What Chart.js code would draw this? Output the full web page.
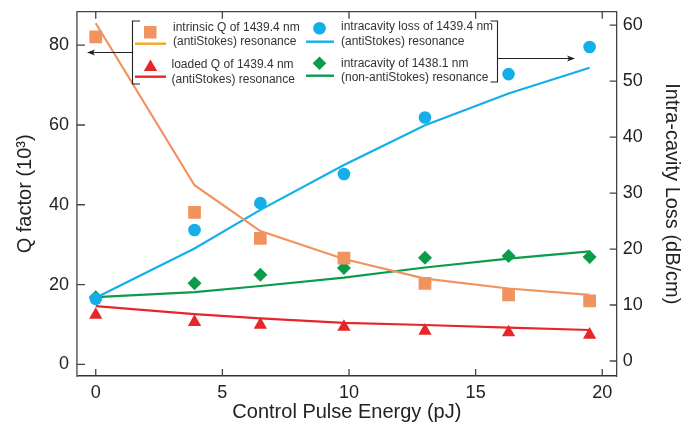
<!DOCTYPE html>
<html>
<head>
<meta charset="utf-8">
<script src="https://cdn.jsdelivr.net/npm/chart.js@4.4.1/dist/chart.umd.min.js"></script>
<style>
  html, body { margin: 0; padding: 0; background: #fff; }
  #wrap { width: 694px; height: 428px; position: relative; }
</style>
</head>
<body>
<div id="wrap"><canvas id="chart"></canvas></div>
<script>
// control pulse energy (pJ)
const energy = [0, 3.9, 6.5, 9.8, 13, 16.3, 19.5];

// Q factor (10^3), left axis
const intrinsicQ = [82.1, 38.1, 31.6, 26.6, 20.3, 17.4, 15.9];
const intrinsicFit = [85.5, 44.9, 33.4, 26.4, 21.5, 19.0, 17.4];
const loadedQ = [12.4, 10.6, 9.9, 9.35, 8.4, 8.0, 7.4];
const loadedFit = [14.6, 12.6, 11.5, 10.4, 9.85, 9.2, 8.6];

// intra-cavity loss (dB/cm), right axis
const lossAntiStokes = [11.1, 23.4, 28.2, 33.4, 43.5, 51.25, 56.1];
const lossAntiStokesFit = [11.3, 20.1, 27.0, 35.0, 42.1, 47.8, 52.4];
const lossOther = [11.4, 13.9, 15.4, 16.6, 18.45, 18.75, 18.6];
const lossOtherFit = [11.4, 12.3, 13.4, 14.9, 16.7, 18.3, 19.6];

const xTicks = [0, 5, 10, 15, 20];
const qTicks = [0, 20, 40, 60, 80];
const lossTicks = [0, 10, 20, 30, 40, 50, 60];

const ORANGE = '#f0935e';
const ORANGE_KEY = '#f6a623';
const RED = '#e6262b';
const BLUE = '#14aee8';
const GREEN = '#0c9b4a';
const FONT = '"Liberation Sans", Arial, Helvetica, sans-serif';

const pts = (ys) => energy.map((x, i) => ({ x: x, y: ys[i] }));

function markerSet(label, ys, axis, color, style, radius) {
  return {
    label: label, data: pts(ys), yAxisID: axis, showLine: false, order: 1,
    pointStyle: style, pointRadius: radius, pointHoverRadius: radius,
    backgroundColor: color, borderColor: color, pointBorderWidth: 0
  };
}
function lineSet(label, ys, axis, color) {
  return {
    label: label, data: pts(ys), yAxisID: axis, showLine: true, order: 2,
    borderColor: color, borderWidth: 2.2, pointRadius: 0, tension: 0
  };
}

// keep the plot box where the reference has it
function fixVertical(width) {
  return s => { s.width = width; s.paddingTop = 0; s.paddingBottom = 0; };
}

// inner tick marks, top frame line and the bracketed legend
const decorations = {
  id: 'decorations',
  afterDraw(chart) {
    const { ctx, chartArea: a, scales } = chart;
    ctx.save();
    ctx.strokeStyle = '#444';
    ctx.lineWidth = 1.3;
    ctx.beginPath();
    ctx.moveTo(a.left, a.top); ctx.lineTo(a.right, a.top);
    xTicks.forEach(v => {
      const px = scales.x.getPixelForValue(v);
      ctx.moveTo(px, a.bottom); ctx.lineTo(px, a.bottom - 7);
      ctx.moveTo(px, a.top); ctx.lineTo(px, a.top + 7);
    });
    qTicks.forEach(v => {
      const py = scales.yQ.getPixelForValue(v);
      ctx.moveTo(a.left, py); ctx.lineTo(a.left + 8, py);
    });
    lossTicks.forEach(v => {
      const py = scales.yLoss.getPixelForValue(v);
      ctx.moveTo(a.right, py); ctx.lineTo(a.right - 7, py);
    });
    ctx.stroke();

    // legend brackets and arrows
    ctx.strokeStyle = '#222';
    ctx.fillStyle = '#222';
    ctx.lineWidth = 1.1;
    ctx.beginPath();
    ctx.moveTo(140, 21); ctx.lineTo(132.5, 21); ctx.lineTo(132.5, 84); ctx.lineTo(140, 84);
    ctx.moveTo(132.5, 52.5); ctx.lineTo(92, 52.5);
    ctx.moveTo(490.5, 21); ctx.lineTo(497.5, 21); ctx.lineTo(497.5, 82); ctx.lineTo(490.5, 82);
    ctx.moveTo(497.5, 58.5); ctx.lineTo(570, 58.5);
    ctx.stroke();
    ctx.beginPath();
    ctx.moveTo(87, 52.5); ctx.lineTo(95, 49.5); ctx.lineTo(93, 52.5); ctx.lineTo(95, 55.5); ctx.closePath();
    ctx.moveTo(575, 58.5); ctx.lineTo(567, 55.5); ctx.lineTo(569, 58.5); ctx.lineTo(567, 61.5); ctx.closePath();
    ctx.fill();

    // legend keys
    ctx.lineWidth = 2.4;
    const keyLine = (x1, x2, y, c) => {
      ctx.strokeStyle = c; ctx.beginPath(); ctx.moveTo(x1, y); ctx.lineTo(x2, y); ctx.stroke();
    };
    ctx.fillStyle = ORANGE; ctx.fillRect(144, 26, 12.5, 12.5);
    keyLine(135, 166, 43.7, ORANGE_KEY);
    ctx.fillStyle = RED; ctx.beginPath();
    ctx.moveTo(150.5, 59.5); ctx.lineTo(157.2, 71); ctx.lineTo(143.8, 71); ctx.closePath(); ctx.fill();
    keyLine(135, 166, 76.7, RED);
    ctx.fillStyle = BLUE; ctx.beginPath(); ctx.arc(319.5, 28.3, 6.3, 0, Math.PI * 2); ctx.fill();
    keyLine(306, 334, 41.7, BLUE);
    ctx.fillStyle = GREEN; ctx.beginPath();
    ctx.moveTo(319.5, 56.5); ctx.lineTo(326.3, 63.3); ctx.lineTo(319.5, 70.1); ctx.lineTo(312.7, 63.3); ctx.closePath(); ctx.fill();
    keyLine(306, 334, 75.7, GREEN);

    ctx.fillStyle = '#333';
    ctx.font = '12px ' + FONT;
    ctx.textBaseline = 'middle';
    ctx.textAlign = 'left';
    ctx.fillText('intrinsic Q of 1439.4 nm', 173, 28);
    ctx.fillText('(antiStokes) resonance', 173, 42);
    ctx.fillText('loaded Q of 1439.4 nm', 171.5, 65);
    ctx.fillText('(antiStokes) resonance', 171.5, 79.3);
    ctx.fillText('intracavity loss of 1439.4 nm', 341, 27);
    ctx.fillText('(antiStokes) resonance', 341, 41.7);
    ctx.fillText('intracavity of 1438.1 nm', 341, 63.5);
    ctx.fillText('(non-antiStokes) resonance', 341, 77.5);
    ctx.restore();
  }
};

const tickFont = { family: FONT, size: 18 };
const titleFont = { family: FONT, size: 20 };

new Chart(document.getElementById('chart'), {
  type: 'scatter',
  data: {
    datasets: [
      markerSet('intrinsic Q', intrinsicQ, 'yQ', ORANGE, 'rect', 9),
      markerSet('loaded Q', loadedQ, 'yQ', RED, 'triangle', 7.7),
      markerSet('loss 1439.4', lossAntiStokes, 'yLoss', BLUE, 'circle', 6.3),
      markerSet('loss 1438.1', lossOther, 'yLoss', GREEN, 'rectRot', 7),
      lineSet('intrinsic fit', intrinsicFit, 'yQ', ORANGE),
      lineSet('loaded fit', loadedFit, 'yQ', RED),
      lineSet('loss 1439.4 fit', lossAntiStokesFit, 'yLoss', BLUE),
      lineSet('loss 1438.1 fit', lossOtherFit, 'yLoss', GREEN)
    ]
  },
  options: {
    responsive: true,
    maintainAspectRatio: false,
    animation: false,
    layout: { padding: { top: 11.7, left: 0, right: 0, bottom: 0 } },
    plugins: { legend: { display: false }, tooltip: { enabled: false } },
    scales: {
      x: {
        type: 'linear', min: -0.74, max: 20.57,
        afterFit: s => { s.height = 52; s.paddingLeft = 0; s.paddingRight = 0; },
        ticks: { stepSize: 5, includeBounds: false, color: '#222', font: tickFont, padding: 6, maxRotation: 0 },
        grid: { drawOnChartArea: false, drawTicks: false },
        border: { color: '#333', width: 1.5 },
        title: { display: true, text: 'Control Pulse Energy (pJ)', color: '#222', font: titleFont, padding: { top: 0, bottom: 4 } }
      },
      yQ: {
        type: 'linear', position: 'left', min: -2.93, max: 88.4,
        afterFit: fixVertical(77),
        ticks: { stepSize: 20, includeBounds: false, color: '#222', font: tickFont, padding: 8 },
        grid: { drawOnChartArea: false, drawTicks: false },
        border: { color: '#777', width: 1.8 },
        title: { display: true, text: 'Q factor (10³)', color: '#222', font: titleFont, padding: { top: 13, bottom: 0 } }
      },
      yLoss: {
        type: 'linear', position: 'right', min: -2.68, max: 62.4,
        afterFit: fixVertical(77.3),
        ticks: { stepSize: 10, includeBounds: false, color: '#222', font: tickFont, padding: 6 },
        grid: { drawOnChartArea: false, drawTicks: false },
        border: { color: '#444', width: 1.3 },
        title: { display: true, text: 'Intra-cavity Loss (dB/cm)', color: '#222', font: titleFont, padding: { top: 10, bottom: 0 } }
      }
    }
  },
  plugins: [decorations]
});
</script>
</body>
</html>
